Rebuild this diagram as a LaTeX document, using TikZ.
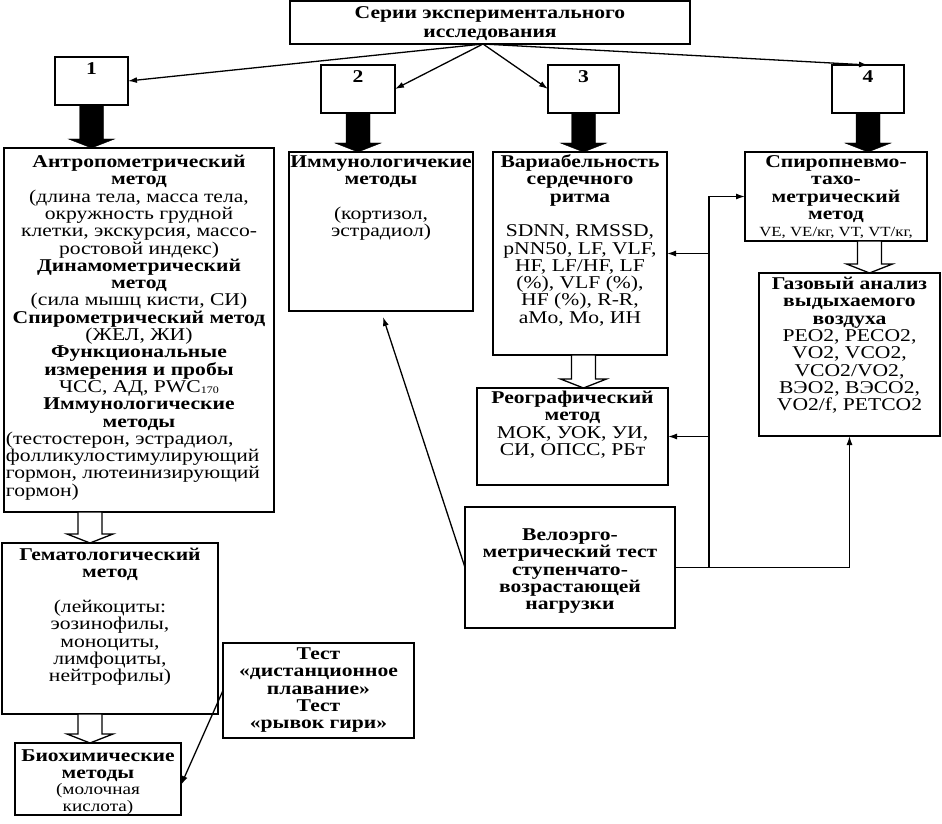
\documentclass[tikz,border=0pt]{standalone}
\usepackage{fontspec}
\setmainfont{Liberation Serif}[FakeStretch=1.2]
\usetikzlibrary{arrows.meta,calc}
\newcommand\bxtext[4]{\parbox[c][#2][t]{#1}{\centering\fontsize{18}{17.3}\selectfont\vspace*{#3}\rule{0pt}{14pt}#4}}
\newcommand\blockarrow[3]{\draw[#1] let \p1=(#2), \p2=(#3) in (\x1-12pt,\y1) -- (\x1-12pt,\y2+9pt) -- (\x1-23pt,\y2+9pt) -- (\x1,\y2) -- (\x1+23pt,\y2+9pt) -- (\x1+12pt,\y2+9pt) -- (\x1+12pt,\y1) -- cycle;}
\newcommand\smallsub[1]{\raisebox{-1pt}{\fontsize{10}{10}\selectfont #1}}
\begin{document}
\begin{tikzpicture}[x=1pt,y=-1pt,
  bx/.style={draw, line width=1.4pt, inner sep=0pt, outer sep=0pt, fill=white, anchor=north west},
  arr/.style={line width=1.3pt, -{Latex[length=9pt,width=6pt]}},
  blk/.style={fill=black},
  opn/.style={draw=black, fill=white, line width=1.3pt}]
\useasboundingbox[fill=white] (0,0) rectangle (942,824);

\node[bx] (T) at (290,1) {\bxtext{400pt}{43pt}{3.5pt}{\textbf{Серии экспериментального\\[1.7pt]исследования}}};

\node[bx] (n1) at (55,57) {\bxtext{73pt}{48pt}{3.5pt}{\textbf{1}}};
\node[bx] (n2) at (321,65) {\bxtext{74pt}{48pt}{3.5pt}{\textbf{2}}};
\node[bx] (n3) at (548,65) {\bxtext{71pt}{48pt}{3.5pt}{\textbf{3}}};
\node[bx] (n4) at (832,65) {\bxtext{72pt}{48pt}{3.5pt}{\textbf{4}}};

\node[bx] (A) at (4,148) {\bxtext{270pt}{364pt}{5.5pt}{\textbf{Антропометрический\\метод}\\(длина тела, масса тела,\\окружность грудной\\клетки, экскурсия, массо-\\ростовой индекс)\\\textbf{Динамометрический\\метод}\\(сила мышц кисти, СИ)\\\textbf{Спирометрический метод}\\(ЖЕЛ, ЖИ)\\\textbf{Функциональные\\измерения и пробы}\\ЧСС, АД, PWC\smallsub{170}\\\textbf{Иммунологические\\методы}\par
{\raggedright\leftskip=2pt (тестостерон, эстрадиол,\\фолликулостимулирующий\\гормон, лютеинизирующий\\гормон)\par}}};

\node[bx] (B) at (289,152) {\bxtext{184pt}{159pt}{1.5pt}{\textbf{Иммунологичекие\\методы}\\\mbox{}\\(кортизол,\\эстрадиол)}};

\node[bx] (C) at (493,152) {\bxtext{174pt}{203pt}{1.5pt}{\textbf{Вариабельность\\сердечного\\ритма}\\\mbox{}\\SDNN, RMSSD,\\pNN50, LF, VLF,\\HF, LF/HF, LF\\(\%), VLF (\%),\\HF (\%), R-R,\\aMo, Mo, ИН}};

\node[bx] (D) at (745,152) {\bxtext{182pt}{89pt}{1.5pt}{\textbf{Спиропневмо-\\тахо-\\метрический\\метод}\\{\fontsize{14}{17.3}\selectfont VE, VE/кг, VT, VT/кг,}}};

\node[bx] (E) at (759,273) {\bxtext{181pt}{163pt}{2.5pt}{\textbf{Газовый анализ\\выдыхаемого\\воздуха}\\PEO2, PECO2,\\VO2, VCO2,\\VCO2/VO2,\\ВЭО2, ВЭСО2,\\VO2/f, PETCO2}};

\node[bx] (R) at (477,388) {\bxtext{191pt}{97pt}{1.5pt}{\textbf{Реографический\\метод}\\МОК, УОК, УИ,\\СИ, ОПСС, РБт}};

\node[bx] (V) at (465,507) {\bxtext{210pt}{121pt}{19.5pt}{\textbf{Велоэрго-\\метрический тест\\ступенчато-\\возрастающей\\нагрузки}}};

\node[bx] (G) at (2,543) {\bxtext{216pt}{171pt}{3.5pt}{\textbf{Гематологический\\метод}\\\mbox{}\\(лейкоциты:\\эозинофилы,\\моноциты,\\лимфоциты,\\нейтрофилы)}};

\node[bx] (H) at (15,743) {\bxtext{166pt}{72pt}{4.5pt}{\textbf{Биохимические\\методы}\\[-2pt]{\fontsize{16}{17.3}\selectfont (молочная\\кислота)}}};

\node[bx] (Q) at (223,643) {\bxtext{191pt}{95pt}{2.5pt}{\textbf{Тест\\«дистанционное\\плавание»\\Тест\\«рывок гири»}}};

% block arrows
\blockarrow{blk}{n1.south}{A.north}
\blockarrow{blk}{n2.south}{B.north}
\blockarrow{blk}{n3.south}{C.north}
\blockarrow{blk}{n4.south}{D.north}
\blockarrow{opn}{[xshift=86pt]A.south west}{G.north}
\blockarrow{opn}{[xshift=88pt]G.south west}{H.north}
\blockarrow{opn}{[xshift=90.5pt]C.south west}{R.north}
\blockarrow{opn}{[xshift=124.5pt]D.south west}{E.north}

% connectors
\coordinate (ts) at ([xshift=-7pt]T.south);
\draw[arr] (ts) -- (n1.east);
\draw[arr] (ts) -- (n2.east);
\draw[arr] (ts) -- (n3.west);
\draw[arr] (ts) -- (n4.north);

\coordinate (jn) at ([xshift=34pt]V.east);
\draw[arr] (V.east) -| (E.south);
\draw[arr] (jn) |- (D.west);
\draw[arr] (jn |- C.east) -- (C.east);
\draw[arr] (jn |- R.east) -- (R.east);
\draw[arr] (V.west) -- ([xshift=2pt,yshift=-6pt]B.south);
\draw[arr] (Q.west) -- ([yshift=-6pt]H.east);
\end{tikzpicture}
\end{document}
